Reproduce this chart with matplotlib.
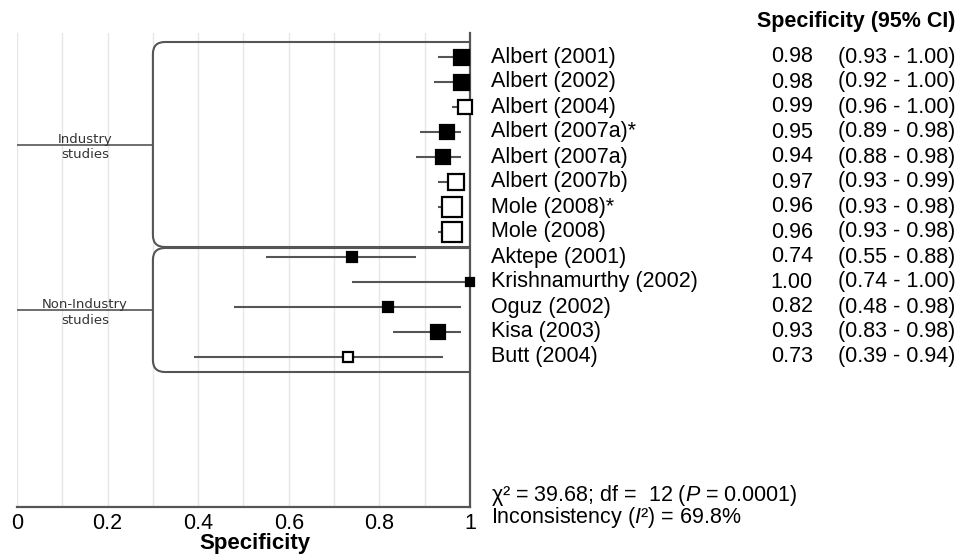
import numpy as np
import matplotlib
matplotlib.use('Agg')
import matplotlib.pyplot as plt
from matplotlib.path import Path
from matplotlib.patches import PathPatch
from matplotlib.transforms import blended_transform_factory

plt.rcParams['font.family'] = 'Liberation Sans'
plt.rcParams['mathtext.fontset'] = 'custom'
plt.rcParams['mathtext.rm'] = 'Liberation Sans'
plt.rcParams['mathtext.it'] = 'Liberation Sans:italic'

studies = ['Albert (2001)', 'Albert (2002)', 'Albert (2004)', 'Albert (2007a)*',
           'Albert (2007a)', 'Albert (2007b)', 'Mole (2008)*', 'Mole (2008)',
           'Aktepe (2001)', 'Krishnamurthy (2002)', 'Oguz (2002)', 'Kisa (2003)',
           'Butt (2004)']
spec = [0.98, 0.98, 0.99, 0.95, 0.94, 0.97, 0.96, 0.96, 0.74, 1.00, 0.82, 0.93, 0.73]
lower = [0.93, 0.92, 0.96, 0.89, 0.88, 0.93, 0.93, 0.93, 0.55, 0.74, 0.48, 0.83, 0.39]
upper = [1.00, 1.00, 1.00, 0.98, 0.98, 0.99, 0.98, 0.98, 0.88, 1.00, 0.98, 0.98, 0.94]
filled = [1, 1, 0, 1, 1, 0, 0, 0, 1, 1, 1, 1, 0]
weights = [10.8, 10.8, 10.1, 10.1, 10.1, 12.2, 14.4, 13.7, 7.9, 5.8, 6.5, 9.4, 7.2]

groups = ['Industry\nstudies', 'Non-Industry\nstudies']
group_rows = [(-0.6, 7.6), (7.64, 12.6)]

chi_text = 'χ² = 39.68; df =  12 ($P$ = 0.0001)'
incons_text = 'Inconsistency ($I$²) = 69.8%'

W, H = 959, 556
fig = plt.figure(figsize=(W / 100, H / 100), dpi=100)
ax = fig.add_axes([17 / W, 1 - 507 / H, (470 - 17) / W, (507 - 33) / H])

rows = np.arange(len(studies))
ax.set_xlim(0, 1)
ax.set_ylim(18, -0.96)

# grid
ax.set_xticks(np.arange(0, 1.01, 0.2))
ax.set_xticklabels(['0', '0.2', '0.4', '0.6', '0.8', '1'])
ax.set_xticks(np.arange(0, 1.0, 0.1), minor=True)
ax.grid(which='both', axis='x', color='#e6e6e6', lw=1, zorder=0)
ax.tick_params(axis='x', which='both', length=0, labelsize=15.5, pad=4)
ax.set_yticks([])
for s in ['top', 'left']:
    ax.spines[s].set_visible(False)
ax.spines['bottom'].set_color('#555555')
ax.spines['bottom'].set_linewidth(1.6)
ax.spines['right'].set_color('#555555')
ax.spines['right'].set_linewidth(1.6)

# group brackets
rx, ry = 0.0265, 0.48
for label, (top, bot) in zip(groups, group_rows):
    verts = [(1, top), (0.3 + rx, top), (0.3, top), (0.3, top + ry),
             (0.3, bot - ry), (0.3, bot), (0.3 + rx, bot), (1, bot)]
    codes = [Path.MOVETO, Path.LINETO, Path.CURVE3, Path.CURVE3,
             Path.LINETO, Path.CURVE3, Path.CURVE3, Path.LINETO]
    ax.add_patch(PathPatch(Path(verts, codes), fill=False, ec='#555555', lw=1.5, zorder=2))
    mid = (top + bot) / 2
    ax.plot([0, 0.3], [mid, mid], color='#555555', lw=1.2, zorder=2)
    ax.text(0.15, mid + 0.1, label, ha='center', va='center', fontsize=9.5,
            family='DejaVu Sans', color='#333333', linespacing=1.25, zorder=3)

# CIs and points
ax.hlines(rows, lower, upper, color='#555555', lw=1.5, zorder=3)
for i in rows:
    fc = 'black' if filled[i] else 'white'
    ax.plot(spec[i], i, marker='s', ms=weights[i], mfc=fc, mec='black',
            mew=1.6, ls='none', zorder=4, clip_on=False)

# right-hand table
tr = blended_transform_factory(fig.transFigure, ax.transData)
for i in rows:
    ax.text(491 / W, i, studies[i], transform=tr, ha='left', va='center', fontsize=15.5)
    ax.text(813 / W, i, '%.2f' % spec[i], transform=tr, ha='right', va='center', fontsize=15.5)
    ax.text(838 / W, i, '(%.2f - %.2f)' % (lower[i], upper[i]), transform=tr,
            ha='left', va='center', fontsize=15.5)

fig.text(955 / W, 1 - 21 / H, 'Specificity (95% CI)', ha='right', va='center',
         fontsize=15.5, fontweight='bold')
fig.text(491 / W, 1 - 495 / H, chi_text, ha='left', va='center', fontsize=15.5)
fig.text(491 / W, 1 - 518 / H, incons_text, ha='left', va='center', fontsize=15.5)
fig.text(255 / W, 1 - 544 / H, 'Specificity', ha='center', va='center',
         fontsize=16, fontweight='bold')

fig.savefig('out.png', dpi=100)
